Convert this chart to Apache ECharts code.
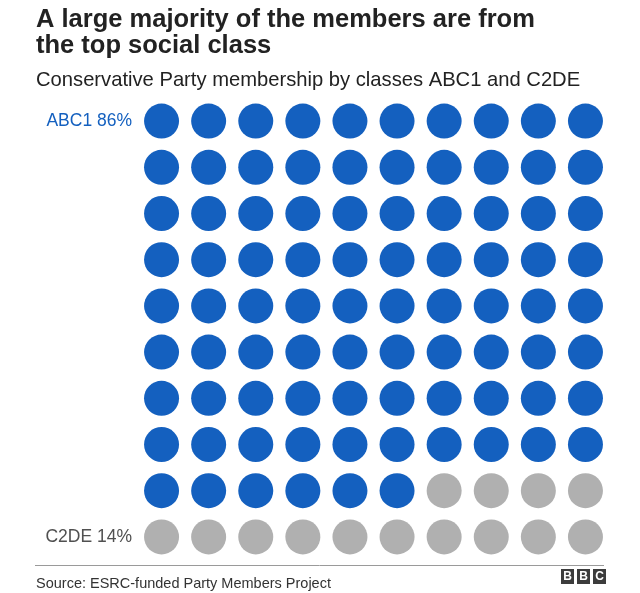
<!DOCTYPE html>
<html>
<head>
<meta charset="utf-8">
<script src="https://cdn.jsdelivr.net/npm/echarts@6/dist/echarts.min.js"></script>
<style>html,body{margin:0;padding:0;background:#fff;}#c{width:640px;height:593px;}</style>
</head>
<body>
<div id="c"></div>
<script>
var classes = ['ABC1', 'C2DE'];
var shares = [86, 14];
var classColors = ['#1460bf', '#b0b0b0'];
var labelColors = ['#1460bf', '#505050'];
var columns = ['1','2','3','4','5','6','7','8','9','10'];
var rows = ['1','2','3','4','5','6','7','8','9','10'];

var FONT = '"Liberation Sans", Arial, Helvetica, sans-serif';

// build the 100 cells from the shares
var seriesData = classes.map(function(){ return []; });
var idx = 0;
shares.forEach(function(s, k){
  for (var i = 0; i < s; i++, idx++) {
    seriesData[k].push([columns[idx % 10], rows[Math.floor(idx / 10)]]);
  }
});

// row labels: first row gets first class, last row gets last class
var rowLabels = rows.map(function(r, i){
  if (i === 0) return '{a|' + classes[0] + ' ' + shares[0] + '%}';
  if (i === rows.length - 1) return '{b|' + classes[1] + ' ' + shares[1] + '%}';
  return '';
});

var chart = echarts.init(document.getElementById('c'), null, {renderer: 'canvas'});
chart.setOption({
  animation: false,
  backgroundColor: '#ffffff',
  grid: {left: 138, top: 98, width: 471, height: 462, containLabel: false},
  xAxis: {
    type: 'category', data: columns, boundaryGap: true,
    axisLine: {show: false}, axisTick: {show: false}, axisLabel: {show: false}, splitLine: {show: false}
  },
  yAxis: {
    type: 'category', data: rows, inverse: true, boundaryGap: true,
    axisLine: {show: false}, axisTick: {show: false}, splitLine: {show: false},
    axisLabel: {
      margin: 6, interval: 0, fontFamily: FONT, fontSize: 17.5,
      formatter: function(v, i){ return rowLabels[i]; },
      rich: {
        a: {color: labelColors[0], fontSize: 17.5, fontFamily: FONT},
        b: {color: labelColors[1], fontSize: 17.5, fontFamily: FONT}
      }
    }
  },
  series: classes.map(function(c, k){
    return {
      name: c, type: 'scatter', data: seriesData[k],
      symbol: 'circle', symbolSize: 35,
      itemStyle: {color: classColors[k], opacity: 1},
      emphasis: {disabled: true}
    };
  }),
  graphic: [
    {type: 'text', left: 36, top: 7, style: {text: 'A large majority of the members are from\nthe top social class', fill: '#222222', font: 'bold 25.5px ' + FONT, lineHeight: 26}},
    {type: 'text', left: 36, top: 70, style: {text: 'Conservative Party membership by classes ABC1 and C2DE', fill: '#222222', font: '20.2px ' + FONT, lineHeight: 20}},
    {type: 'line', shape: {x1: 35, y1: 565.5, x2: 604, y2: 565.5}, style: {stroke: '#9a9a9a', lineWidth: 1}},
    {type: 'text', left: 36, top: 576, style: {text: 'Source: ESRC-funded Party Members Project', fill: '#333333', font: '14.5px ' + FONT, lineHeight: 14.5}},
    {type: 'group', left: 561, top: 569, children: [
      {type: 'rect', shape: {x: 0, y: 0, width: 13, height: 15}, style: {fill: '#3c3c3c'}},
      {type: 'text', x: 6.5, y: 7.5, style: {text: 'B', fill: '#fff', font: 'bold 12px ' + FONT, textAlign: 'center', textVerticalAlign: 'middle'}},
      {type: 'rect', shape: {x: 16, y: 0, width: 13, height: 15}, style: {fill: '#3c3c3c'}},
      {type: 'text', x: 22.5, y: 7.5, style: {text: 'B', fill: '#fff', font: 'bold 12px ' + FONT, textAlign: 'center', textVerticalAlign: 'middle'}},
      {type: 'rect', shape: {x: 32, y: 0, width: 13, height: 15}, style: {fill: '#3c3c3c'}},
      {type: 'text', x: 38.5, y: 7.5, style: {text: 'C', fill: '#fff', font: 'bold 12px ' + FONT, textAlign: 'center', textVerticalAlign: 'middle'}}
    ]}
  ]
});
</script>
</body>
</html>
